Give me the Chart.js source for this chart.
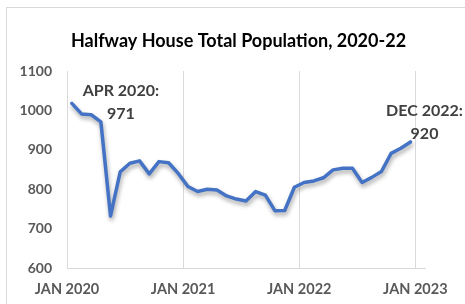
<!DOCTYPE html>
<html>
<head>
    <title>Halfway House Total Population</title>
    <style>
        html, body { margin: 0; padding: 0; background: #fff; }
        #frame { position: absolute; left: 6px; top: 7px; width: 470px; height: 310px; border: 1px solid #d9d9d9; }
        #wrap { position: absolute; left: 0; top: 0; width: 465px; height: 304px; }
    </style>
</head>
<body>
    <div id="frame"></div>
    <div id="wrap">
        <canvas id="popChart" width="465" height="304"></canvas>
    </div>

    <script src="https://cdn.jsdelivr.net/npm/chart.js"></script>
    <script>
        // Monthly population, Jan 2020 - Dec 2022
        const months = [
            'Jan 2020', 'Feb 2020', 'Mar 2020', 'Apr 2020', 'May 2020', 'Jun 2020',
            'Jul 2020', 'Aug 2020', 'Sep 2020', 'Oct 2020', 'Nov 2020', 'Dec 2020',
            'Jan 2021', 'Feb 2021', 'Mar 2021', 'Apr 2021', 'May 2021', 'Jun 2021',
            'Jul 2021', 'Aug 2021', 'Sep 2021', 'Oct 2021', 'Nov 2021', 'Dec 2021',
            'Jan 2022', 'Feb 2022', 'Mar 2022', 'Apr 2022', 'May 2022', 'Jun 2022',
            'Jul 2022', 'Aug 2022', 'Sep 2022', 'Oct 2022', 'Nov 2022', 'Dec 2022'
        ];
        const population = [
            1018, 991, 989, 971, 732, 844, 866, 872, 839, 870, 867, 840,
            807, 794, 800, 798, 783, 775, 770, 794, 785, 745, 746, 805,
            817, 821, 829, 849, 853, 853, 817, 830, 845, 891, 904, 920
        ];
        const yearTicks = [0, 12, 24, 36];
        const yearLabels = ['JAN 2020', 'JAN 2021', 'JAN 2022', 'JAN 2023'];

        const chartTitle = 'Halfway House Total Population, 2020-22';

        // callouts: [index into data, first line, second line]
        const callouts = [
            { idx: 3, line1: 'APR 2020:', line2: '971', dx: 20 },
            { idx: 35, line1: 'DEC 2022:', line2: '920', dx: 14 }
        ];

        const FONT = 'Lato, "Open Sans", sans-serif';

        // points sit mid-month on a date-like axis
        const points = population.map((v, i) => ({ x: i + 0.5, y: v }));

        const shadowPlugin = {
            id: 'lineShadow',
            beforeDatasetsDraw(chart) {
                const c = chart.ctx;
                c.save();
                c.shadowColor = 'rgba(0,0,0,0.35)';
                c.shadowBlur = 4;
                c.shadowOffsetX = 1;
                c.shadowOffsetY = 3;
            },
            afterDatasetsDraw(chart) {
                chart.ctx.restore();
            }
        };

        // title centred on the outer frame, callout labels near their points
        const textPlugin = {
            id: 'texts',
            afterDraw(chart) {
                const c = chart.ctx;
                const xs = chart.scales.x, ys = chart.scales.y;
                c.save();
                c.textAlign = 'center';
                c.textBaseline = 'middle';

                c.font = 'bold 18px ' + FONT;
                c.fillStyle = '#000';
                c.fillText(chartTitle, 238.5, 41);

                c.font = 'bold 16px ' + FONT;
                c.fillStyle = '#404040';
                callouts.forEach(co => {
                    const px = xs.getPixelForValue(co.idx + 0.5) + co.dx;
                    const py = ys.getPixelForValue(population[co.idx]);
                    c.fillText(co.line1, px, py - 31);
                    c.fillText(co.line2, px, py - 8);
                });
                c.restore();
            }
        };

        const ctx = document.getElementById('popChart').getContext('2d');
        const popChart = new Chart(ctx, {
            type: 'line',
            data: {
                datasets: [{
                    label: 'Total Population',
                    data: points,
                    borderColor: '#4472C4',
                    borderWidth: 3.5,
                    pointRadius: 0,
                    tension: 0,
                    borderJoinStyle: 'round',
                    borderCapStyle: 'round'
                }]
            },
            options: {
                responsive: false,
                animation: false,
                layout: { padding: { left: 0, right: 40, top: 71, bottom: 0 } },
                plugins: {
                    legend: { display: false },
                    tooltip: { enabled: false },
                    title: { display: false }
                },
                scales: {
                    x: {
                        type: 'linear',
                        min: 0,
                        max: 37,
                        afterBuildTicks: axis => {
                            axis.ticks = yearTicks.map(v => ({ value: v }));
                        },
                        afterFit: axis => { axis.height = 36; },
                        grid: { color: '#d9d9d9', drawTicks: false },
                        border: { color: '#d9d9d9' },
                        ticks: {
                            padding: 13,
                            maxRotation: 0,
                            autoSkip: false,
                            color: '#595959',
                            font: { family: FONT, size: 14.5, weight: 'bold' },
                            callback: v => yearLabels[yearTicks.indexOf(v)]
                        }
                    },
                    y: {
                        min: 600,
                        max: 1100,
                        afterFit: axis => { axis.width = 67; },
                        grid: { display: false, drawTicks: false },
                        border: { display: true, color: '#d9d9d9' },
                        ticks: {
                            stepSize: 100,
                            padding: 15,
                            color: '#595959',
                            font: { family: FONT, size: 14, weight: 'bold' },
                            callback: v => String(v)
                        }
                    }
                }
            },
            plugins: [shadowPlugin, textPlugin]
        });
    </script>
</body>
</html>
